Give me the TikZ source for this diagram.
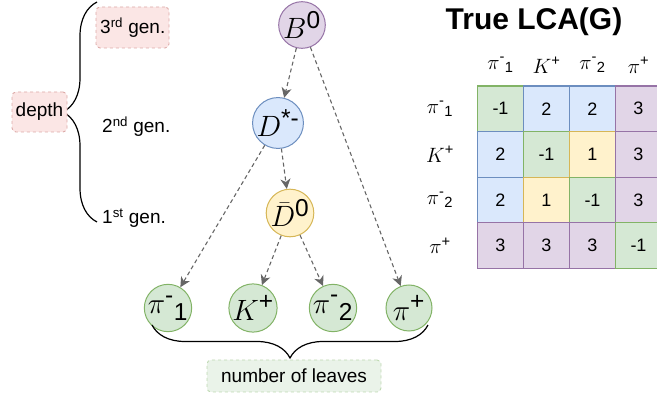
\documentclass[tikz,border=0pt]{standalone}
\usepackage{amsmath}
\usepackage{fontspec}
\setmainfont{Liberation Sans}
\setsansfont{Liberation Sans}
\usetikzlibrary{
  arrows.meta,
  decorations.pathreplacing
}
\definecolor{purfill}{HTML}{E1D5E7}
\definecolor{purline}{HTML}{9673A6}
\definecolor{blufill}{HTML}{DAE8FC}
\definecolor{bluline}{HTML}{6C8EBF}
\definecolor{yelfill}{HTML}{FFF2CC}
\definecolor{yelline}{HTML}{D6B656}
\definecolor{grnfill}{HTML}{D5E8D4}
\definecolor{grnline}{HTML}{82B366}
\definecolor{redfill}{HTML}{FBE6E5}
\definecolor{redline}{HTML}{DCA9A7}
\definecolor{leafbox}{HTML}{EAF3E9}
\definecolor{leafline}{HTML}{BFD9B2}
\definecolor{edgegray}{HTML}{666666}
\newcommand{\ptcl}[1]{\scalebox{1.18}{$#1$}}

\begin{document}
\begin{tikzpicture}[x=1pt, y=-1pt,
  particle/.style={circle, draw=#1line, fill=#1fill, line width=1pt,
    minimum size=46pt, inner sep=0pt, font=\fontsize{24.88}{28}\selectfont},
  decay/.style={draw=edgegray, dashed, line width=1.1pt,
    dash pattern=on 4pt off 3pt, -{Stealth[length=10pt, width=10pt, inset=3pt]}},
  cell/.style={draw=#1line, fill=#1fill, line width=1.2pt,
    minimum width=46pt, minimum height=45.6pt, inner sep=0pt,
    font=\fontsize{18}{21}\selectfont},
  tag/.style={rounded corners=4pt, dashed, line width=0.9pt,
    inner sep=0pt, font=\fontsize{19}{22}\selectfont},
  axislabel/.style={font=\fontsize{21}{24}\selectfont},
  genlabel/.style={anchor=west, inner sep=0pt, font=\fontsize{19}{22}\selectfont}]
  \clip (0,0) rectangle (657,398);

  % decay tree
  \node[particle=pur] (b0) at (302,25) {\ptcl{B^{\text{0}}}};
  \node[particle=blu] (dstar) at (278,123) {\ptcl{D^{\text{*-}}}};
  \node[particle=yel] (d0bar) at (290,213) {\ptcl{\bar{D}^{\text{0}}}};
  \node[particle=grn] (pim1) at (168,308) {\ptcl{\pi^{\text{-}}{}_{\text{1}}}};
  \node[particle=grn] (kp) at (253,308) {\ptcl{K^{\text{+}}}};
  \node[particle=grn] (pim2) at (333,308) {\ptcl{\pi^{\text{-}}{}_{\text{2}}}};
  \node[particle=grn] (pip) at (409,308) {\ptcl{\pi^{\text{+}}}};

  \draw[decay] (b0) -- (dstar);
  \draw[decay] (b0) -- (pip);
  \draw[decay] (dstar) -- (d0bar);
  \draw[decay] (dstar) -- (pim1);
  \draw[decay] (d0bar) -- (kp);
  \draw[decay] (d0bar) -- (pim2);

  % generations and depth
  \node[tag, draw=redline, fill=redfill, minimum width=73pt, minimum height=41pt]
    (gen3box) at (132.5,27.5) {};
  \node[genlabel] (gen3) at (100,28) {3\textsuperscript{rd} gen.};
  \node[genlabel] (gen2) at (102,127) {2\textsuperscript{nd} gen.};
  \node[genlabel] (gen1) at (102,218) {1\textsuperscript{st} gen.};
  \coordinate (depthtop) at (97,2);
  \coordinate (depthbot) at (97,222);
  \draw[line width=1.2pt, decorate, decoration={brace, amplitude=34pt}]
    (depthbot) -- (depthtop);
  \node[tag, draw=redline, fill=redfill, minimum width=55pt, minimum height=40pt]
    (depth) at (39.5,112) {depth};

  % number of leaves
  \coordinate (leafleft) at (152,325);
  \coordinate (leafright) at (428,325);
  \draw[line width=1.2pt, decorate, decoration={brace, amplitude=33pt}]
    (leafright) -- (leafleft);
  \node[tag, draw=leafline, fill=leafbox, minimum width=174pt, minimum height=32pt]
    (leaves) at (294,376) {number of leaves};

  % LCA matrix
  \node[font=\fontsize{30}{34}\selectfont\bfseries] (title) at (534,22) {True LCA(G)};
  \foreach \lbl [count=\k from 0] in {$\pi^{\text{-}}{}_{\text{1}}$, $K^{\text{+}}$,
      $\pi^{\text{-}}{}_{\text{2}}$, $\pi^{\text{+}}$} {
    \node[axislabel] (col\k) at (500.5+46*\k,65) {\lbl};
    \node[axislabel] (row\k) at (440,108.8+45.6*\k) {\lbl};
  }
  \foreach \cols [count=\r from 0] in {{-1/grn,2/blu,2/blu,3/pur},
      {2/blu,-1/grn,1/yel,3/pur}, {2/blu,1/yel,-1/grn,3/pur},
      {3/pur,3/pur,3/pur,-1/grn}}
    \foreach \v/\c [count=\k from 0] in \cols
      \node[cell=\c] (c\r\k) at (500.5+46*\k,108.8+45.6*\r) {\v};
\end{tikzpicture}
\end{document}
